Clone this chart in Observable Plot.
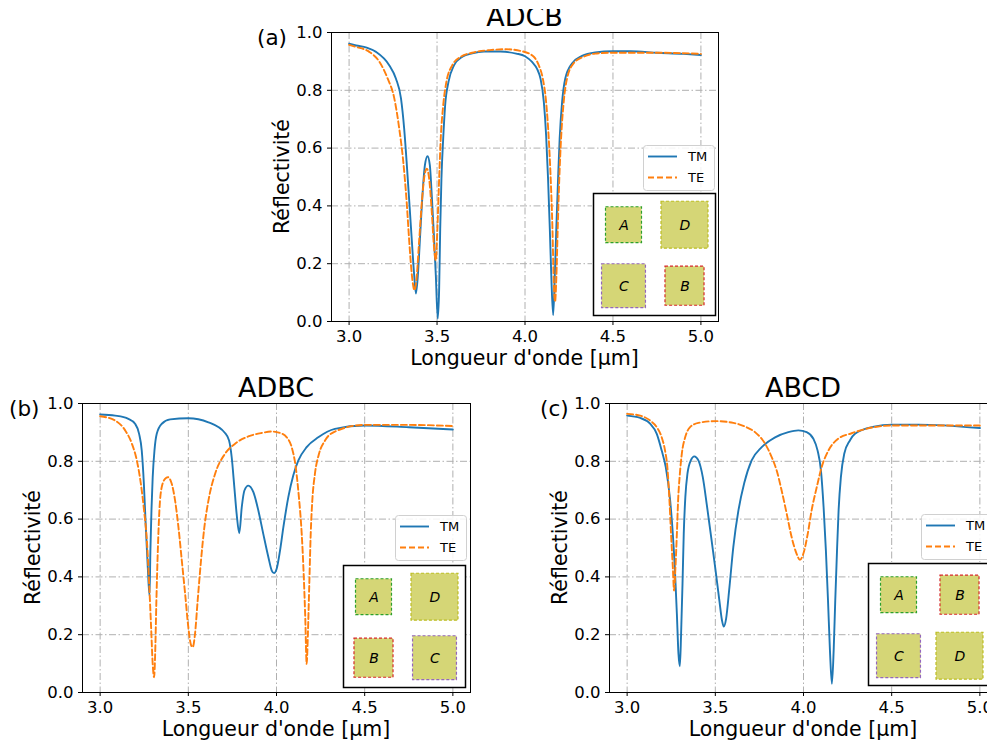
<!DOCTYPE html>
<html><head><meta charset="utf-8">
<script src="https://cdn.jsdelivr.net/npm/d3@7"></script>
<script src="https://cdn.jsdelivr.net/npm/@observablehq/plot@0.6"></script>
<style>
html,body{margin:0;padding:0;background:#fff;overflow:hidden;}
#fig{position:relative;width:987px;height:742px;overflow:hidden;font-family:"DejaVu Sans",sans-serif;background:#fff;}
#fig > svg, #fig > figure{position:absolute;margin:0;}
</style></head><body><div id="fig"></div>
<script>
// ---------- data ----------
const xTicks = [3.0, 3.5, 4.0, 4.5, 5.0];
const yTicks = [0.0, 0.2, 0.4, 0.6, 0.8, 1.0];
const xDomain = [2.9, 5.1];
const yDomain = [0, 1];
const seriesNames = ["TM", "TE"];
const seriesColors = ["#1f77b4", "#ff7f0e"];
const xLabel = "Longueur d'onde [µm]";
const yLabel = "Réflectivité";
const layers = ["A", "B", "C", "D"];
const layerSide = [0.59, 0.64, 0.72, 0.77];
const layerStroke = ["#2ca02c", "#d62728", "#9467bd", "#bcbd22"];

// panel (a) ADCB
const aTM_x = [3.00,3.04,3.10,3.153,3.228,3.266,3.295,3.313,3.327,3.342,3.357,3.370,3.380,3.391,3.404,3.417,3.431,3.446,3.459,3.470,3.482,3.493,3.504,3.512,3.518,3.525,3.535,3.546,3.565,3.597,3.644,3.70,3.767,3.86,3.95,4.00,4.04,4.07,4.088,4.107,4.120,4.131,4.141,4.150,4.160,4.169,4.178,4.188,4.197,4.211,4.229,4.267,4.324,4.399,4.50,4.60,4.75,4.90,5.00];
const aTM_y = [0.961,0.955,0.948,0.933,0.887,0.841,0.772,0.668,0.553,0.416,0.277,0.160,0.097,0.160,0.299,0.437,0.541,0.572,0.541,0.437,0.299,0.160,0.010,0.114,0.322,0.495,0.633,0.748,0.829,0.887,0.916,0.928,0.934,0.934,0.927,0.918,0.898,0.872,0.841,0.760,0.645,0.495,0.322,0.149,0.022,0.149,0.322,0.495,0.633,0.760,0.841,0.893,0.919,0.931,0.935,0.935,0.930,0.926,0.922];
const aTE_x = [3.00,3.04,3.115,3.172,3.219,3.257,3.285,3.308,3.327,3.342,3.357,3.372,3.385,3.398,3.414,3.429,3.442,3.455,3.470,3.482,3.493,3.502,3.512,3.521,3.535,3.553,3.587,3.635,3.70,3.80,3.89,3.984,4.050,4.078,4.101,4.120,4.135,4.146,4.156,4.163,4.171,4.178,4.186,4.195,4.205,4.220,4.239,4.276,4.333,4.399,4.50,4.75,5.00];
const aTE_y = [0.957,0.950,0.933,0.899,0.841,0.772,0.668,0.553,0.416,0.277,0.160,0.108,0.160,0.277,0.416,0.506,0.529,0.495,0.380,0.264,0.212,0.322,0.495,0.633,0.748,0.829,0.887,0.916,0.930,0.939,0.942,0.935,0.916,0.887,0.841,0.760,0.633,0.495,0.322,0.149,0.068,0.149,0.322,0.495,0.633,0.760,0.841,0.893,0.916,0.927,0.930,0.930,0.926];

// panel (b) ADBC
const bTM_x = [3.00,3.085,3.160,3.198,3.221,3.236,3.248,3.259,3.270,3.280,3.285,3.291,3.298,3.308,3.321,3.350,3.397,3.500,3.614,3.708,3.731,3.746,3.761,3.774,3.789,3.803,3.818,3.840,3.869,3.897,3.925,3.954,3.973,3.986,4.001,4.020,4.039,4.067,4.095,4.124,4.171,4.237,4.331,4.50,4.75,5.00];
const bTM_y = [0.962,0.958,0.947,0.930,0.895,0.837,0.722,0.572,0.434,0.335,0.491,0.630,0.745,0.837,0.895,0.930,0.945,0.949,0.935,0.898,0.872,0.814,0.710,0.618,0.551,0.641,0.699,0.716,0.693,0.630,0.549,0.468,0.422,0.413,0.428,0.491,0.572,0.676,0.751,0.803,0.849,0.883,0.912,0.924,0.918,0.910];
const bTE_x = [3.00,3.085,3.142,3.180,3.208,3.231,3.249,3.265,3.278,3.289,3.298,3.306,3.312,3.319,3.327,3.336,3.349,3.368,3.384,3.406,3.425,3.444,3.463,3.482,3.500,3.516,3.525,3.538,3.553,3.572,3.591,3.614,3.652,3.708,3.765,3.840,3.916,3.973,4.020,4.058,4.086,4.109,4.127,4.143,4.154,4.163,4.171,4.178,4.186,4.194,4.203,4.218,4.241,4.275,4.331,4.50,4.75,5.00];
const bTE_y = [0.956,0.941,0.907,0.861,0.803,0.722,0.630,0.526,0.376,0.226,0.099,0.053,0.134,0.318,0.491,0.630,0.710,0.739,0.745,0.722,0.664,0.572,0.457,0.341,0.226,0.163,0.157,0.203,0.318,0.457,0.572,0.664,0.757,0.826,0.861,0.886,0.898,0.903,0.898,0.883,0.849,0.780,0.676,0.549,0.411,0.261,0.099,0.203,0.376,0.549,0.664,0.757,0.826,0.872,0.903,0.926,0.926,0.922];

// panel (c) ABCD
const cTM_x = [3.00,3.074,3.130,3.168,3.196,3.219,3.244,3.259,3.272,3.282,3.291,3.299,3.306,3.314,3.321,3.330,3.342,3.361,3.381,3.404,3.429,3.451,3.474,3.499,3.523,3.538,3.548,3.561,3.580,3.602,3.631,3.664,3.706,3.763,3.839,3.914,3.971,4.018,4.056,4.080,4.099,4.114,4.127,4.139,4.150,4.161,4.171,4.180,4.190,4.199,4.212,4.231,4.263,4.292,4.40,4.50,4.65,5.00];
const cTM_y = [0.958,0.950,0.930,0.895,0.837,0.780,0.664,0.549,0.411,0.272,0.134,0.091,0.203,0.376,0.549,0.676,0.757,0.803,0.817,0.803,0.745,0.653,0.549,0.434,0.318,0.249,0.228,0.255,0.364,0.503,0.630,0.725,0.803,0.849,0.883,0.901,0.907,0.901,0.878,0.837,0.768,0.641,0.491,0.318,0.145,0.030,0.145,0.318,0.491,0.630,0.745,0.826,0.872,0.895,0.920,0.927,0.927,0.915];
const cTE_x = [3.00,3.074,3.130,3.168,3.196,3.215,3.228,3.240,3.249,3.259,3.266,3.274,3.282,3.289,3.299,3.310,3.329,3.357,3.404,3.499,3.602,3.669,3.725,3.782,3.820,3.848,3.876,3.905,3.933,3.961,3.980,3.999,4.024,4.046,4.075,4.103,4.141,4.197,4.273,4.40,4.50,5.00];
const cTE_y = [0.964,0.958,0.941,0.918,0.883,0.837,0.780,0.664,0.549,0.434,0.353,0.434,0.549,0.664,0.757,0.826,0.883,0.918,0.933,0.939,0.933,0.920,0.901,0.861,0.814,0.768,0.699,0.618,0.537,0.480,0.459,0.480,0.549,0.630,0.710,0.780,0.837,0.878,0.897,0.918,0.924,0.924];

const titles = ["ADCB", "ADBC", "ABCD"];
const panelLetters = ["(a)", "(b)", "(c)"];
const stackOrders = [["A","D","C","B"], ["A","D","B","C"], ["A","B","C","D"]];

// ---------- layout ----------
const panels = [
  {L:331, R:718, T:32, B:321, letterX:257, inset:[593,193], legend:[643,145], titleClipTop:9, tmX:aTM_x, tmY:aTM_y, teX:aTE_x, teY:aTE_y},
  {L:82,  R:470, T:403, B:692, letterX:9,  inset:[343,565], legend:[395,515], titleClipTop:null, tmX:bTM_x, tmY:bTM_y, teX:bTE_x, teY:bTE_y},
  {L:609, R:997, T:403, B:692, letterX:540, inset:[868,563], legend:[921,514], titleClipTop:null, tmX:cTM_x, tmY:cTM_y, teX:cTE_x, teY:cTE_y}
];

const fig = document.getElementById("fig");
const font = "DejaVu Sans";
const gridStyle = {stroke:"#b0b0b0", strokeOpacity:1, strokeWidth:1, strokeDasharray:"7,2.5,1.5,2.5"};

panels.forEach((p, k) => {
  const mL = 62, mR = 4, mT = 4, mB = 34;
  const tm = p.tmX.map((x, i) => ({x, y: p.tmY[i]}));
  const te = p.teX.map((x, i) => ({x, y: p.teY[i]}));
  const chart = Plot.plot({
    width: p.R - p.L + mL + mR, height: p.B - p.T + mT + mB,
    marginLeft: mL, marginRight: mR, marginTop: mT, marginBottom: mB,
    x: {domain: xDomain}, y: {domain: yDomain},
    style: {fontFamily: font, fontSize: "16.5px", color: "#000", background: "transparent", overflow: "visible"},
    marks: [
      Plot.gridX(xTicks, gridStyle),
      Plot.gridY(yTicks, gridStyle),
      Plot.line(tm, {x: "x", y: "y", stroke: seriesColors[0], strokeWidth: 1.9, curve: "monotone-x"}),
      Plot.line(te, {x: "x", y: "y", stroke: seriesColors[1], strokeWidth: 1.9, strokeDasharray: "6,3", curve: "monotone-x"}),
      Plot.axisX(xTicks, {tickFormat: d3.format(".1f"), tickSize: 4, tickPadding: 5, label: null, fontSize: 16.5}),
      Plot.axisY(yTicks, {tickFormat: d3.format(".1f"), tickSize: 4, tickPadding: 5, label: null, fontSize: 16.5}),
      Plot.frame({stroke: "#000", strokeWidth: 1})
    ]
  });
  chart.style.left = (p.L - mL) + "px";
  chart.style.top = (p.T - mT) + "px";
  fig.appendChild(chart);
});

// overlay text + legends
const svg = d3.select(fig).append("svg")
  .attr("width", 987).attr("height", 742)
  .style("left", "0px").style("top", "0px")
  .style("font-family", font);
const defs = svg.append("defs");

panels.forEach((p, k) => {
  const cx = (p.L + p.R) / 2, cy = (p.T + p.B) / 2;
  let tg = svg.append("g");
  if (p.titleClipTop != null) {
    defs.append("clipPath").attr("id", "tclip" + k).append("rect")
      .attr("x", 0).attr("y", p.titleClipTop).attr("width", 987).attr("height", p.T - p.titleClipTop);
    tg.attr("clip-path", `url(#tclip${k})`);
  }
  tg.append("text").attr("x", cx).attr("y", p.T - 6).attr("text-anchor", "middle")
    .attr("font-size", 27).attr("fill", "#000").text(titles[k]);
  svg.append("text").attr("x", p.letterX).attr("y", p.T + 13)
    .attr("font-size", 21.5).attr("fill", "#000").text(panelLetters[k]);
  svg.append("text").attr("x", cx).attr("y", p.B + 44).attr("text-anchor", "middle")
    .attr("font-size", 20.5).attr("fill", "#000").text(xLabel);
  svg.append("text").attr("transform", `translate(${p.L - 42},${cy}) rotate(-90)`).attr("text-anchor", "middle")
    .attr("font-size", 20.5).attr("fill", "#000").text(yLabel);
  // legend
  const g = svg.append("g").attr("transform", `translate(${p.legend[0]},${p.legend[1]})`);
  g.append("rect").attr("x", 0.5).attr("y", 0.5).attr("width", 71).attr("height", 45).attr("rx", 3)
    .attr("fill", "#fff").attr("fill-opacity", 0.85).attr("stroke", "#d0d0d0");
  seriesNames.forEach((name, i) => {
    const yy = 11.5 + i * 21;
    g.append("line").attr("x1", 5).attr("x2", 34).attr("y1", yy).attr("y2", yy)
      .attr("stroke", seriesColors[i]).attr("stroke-width", 1.9)
      .attr("stroke-dasharray", i === 1 ? "6,3" : null);
    g.append("text").attr("x", 45).attr("y", yy).attr("dy", "0.36em")
      .attr("font-size", 13).attr("fill", "#000").text(name);
  });
});

// insets (layer schematic)
panels.forEach((p, k) => {
  const cells = stackOrders[k].map((name, i) => {
    const j = layers.indexOf(name);
    return {name, col: i % 2, row: Math.floor(i / 2), side: layerSide[j], color: layerStroke[j]};
  });
  const inset = Plot.plot({
    width: 124, height: 124, margin: 1,
    x: {domain: [0, 2], axis: null}, y: {domain: [0, 2], axis: null, reverse: true},
    color: {type: "identity"},
    style: {background: "#fff", fontFamily: font, overflow: "visible"},
    marks: [
      Plot.rect(cells, {
        x1: d => d.col + 0.5 - d.side / 2, x2: d => d.col + 0.5 + d.side / 2,
        y1: d => d.row + 0.52 - d.side / 2, y2: d => d.row + 0.52 + d.side / 2,
        fill: "#bcbd22", fillOpacity: 0.62, stroke: d => d.color, strokeWidth: 1.2, strokeDasharray: "3,2"
      }),
      Plot.text(cells, {x: d => d.col + 0.5, y: d => d.row + 0.52, text: "name", fontStyle: "italic", fontSize: 14, fill: "#000"}),
      Plot.frame({stroke: "#000", strokeWidth: 1.5})
    ]
  });
  inset.style.left = (p.inset[0] - 1) + "px";
  inset.style.top = (p.inset[1] - 1) + "px";
  fig.appendChild(inset);
});
</script></body></html>
